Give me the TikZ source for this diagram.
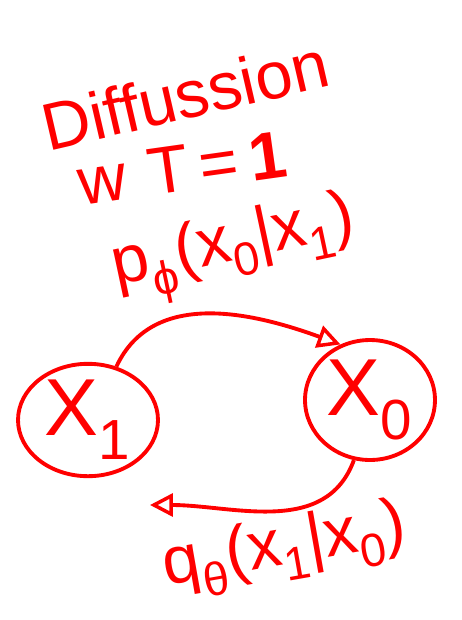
\documentclass[tikz,border=0pt]{standalone}
\usepackage{amsmath}
\usepackage{fontspec}
\setmainfont{Liberation Sans}
\usetikzlibrary{
    arrows.meta,
    shapes.geometric
}
\definecolor{pen}{RGB}{255,0,0}
\tikzset{
    line cap=round,
    line join=round,
    ink/.style={
        draw=pen,
        line width=2.2pt
    },
    state/.style={
        ellipse,
        ink,
        text=pen,
        inner sep=0pt,
        font=\fontsize{46}{50}\selectfont
    },
    transition/.style={
        ink,
        -{Triangle[open, length=13pt, width=13pt, line width=2pt]}
    },
    scribble/.style={
        text=pen,
        font=\fontsize{38}{42}\selectfont
    },
    translabel/.style={
        text=pen,
        font=\fontsize{38}{42}\selectfont
    }
}
\newcommand{\sub}[1]{\textsubscript{#1}}

\begin{document}
\begin{tikzpicture}[x=0.02cm, y=-0.02cm]
\useasboundingbox (0,0) rectangle (462,620);

% Title
\node[scribble, rotate=13] (title) at (185,95) {Diffussion};
\node[scribble, rotate=8] (temp) at (182,168) {w\,\,T\,=\,\textbf{1}};

% States
\node[state, minimum width=2.8cm, minimum height=2.2cm] (x1) at (88,420) {X\sub{1}};
\node[state, minimum width=2.6cm, minimum height=2.4cm] (x0) at (370,400) {X\sub{0}};

% Transitions
\coordinate (qend) at (150,505);
\draw[transition] (x1.62) to[out=65, in=160] (x0.118);
\draw[transition] (x0.-105) to[out=-110, in=0] (qend);

% Labels
\node[translabel, rotate=12] (plbl) at (235,250) {p\sub{ϕ}(x\sub{0}|x\sub{1})};
\node[translabel, rotate=10] (qlbl) at (285,550) {q\sub{θ}(x\sub{1}|x\sub{0})};
\end{tikzpicture}
\end{document}
